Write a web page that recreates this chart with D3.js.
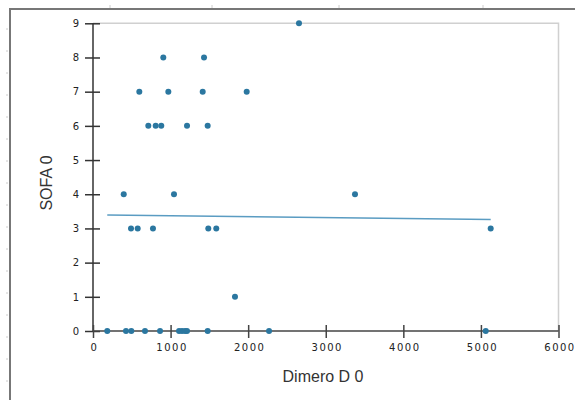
<!DOCTYPE html>
<meta charset="utf-8">
<html>
<style>
  body { margin:0; background:#fff; }
  text { font-family: "DejaVu Sans", sans-serif; }
</style>
<script src="https://d3js.org/d3.v7.min.js"></script>
<body>
<svg id="chart" width="575" height="400"></svg>
<script>

// Data
var dimero = [2655, 906, 1431, 597, 971, 1414, 1981, 713, 808, 880, 1212, 1478,
              396, 1044, 3377, 490, 576, 773, 1486, 1589, 5126, 1830,
              184, 425, 494, 670, 864, 1109, 1147, 1186, 1212, 1478, 2269, 5062];
var sofa   = [9, 8, 8, 7, 7, 7, 7, 6, 6, 6, 6, 6,
              4, 4, 4, 3, 3, 3, 3, 3, 3, 1,
              0, 0, 0, 0, 0, 0, 0, 0, 0, 0, 0, 0];
var trendX = [184, 5126];
var trendY = [3.39, 3.26];
var xTicks = [0, 1000, 2000, 3000, 4000, 5000, 6000];
var yTicks = [0, 1, 2, 3, 4, 5, 6, 7, 8, 9];

var svg = d3.select("#chart");

// outer frame (cropped window)
svg.append("line").attr("x1", 10).attr("x2", 10).attr("y1", 8).attr("y2", 400)
  .attr("stroke", "#777").attr("stroke-width", 2);
svg.append("line").attr("x1", 9).attr("x2", 575).attr("y1", 9).attr("y2", 9)
  .attr("stroke", "#777").attr("stroke-width", 2);
[110, 212, 339, 483].forEach(function(x) {
  svg.append("line").attr("x1", x).attr("x2", x).attr("y1", 5).attr("y2", 8)
    .attr("stroke", "#ccc");
});
d3.range(29, 400, 22).forEach(function(y) {
  svg.append("line").attr("x1", 6).attr("x2", 8).attr("y1", y).attr("y2", y)
    .attr("stroke", "#ccc");
});

var x = d3.scaleLinear().domain([0, 6000]).range([93, 558.5]);
var y = d3.scaleLinear().domain([0, 9]).range([331, 23.3]);

// light plot frame
svg.append("path")
  .attr("d", "M" + x(0) + "," + y(9) + "H" + x(6000) + "V" + y(0))
  .attr("fill", "none").attr("stroke", "#d0d0d0").attr("stroke-width", 1.5);

// y axis
var yAxis = svg.append("g").attr("transform", "translate(" + x(0) + ",0)")
  .call(d3.axisLeft(y).tickValues(yTicks).tickSize(8).tickPadding(6));
yAxis.selectAll(".tick line").attr("x2", 7).attr("x1", -8);
yAxis.select(".domain").attr("d", "M0," + y(9) + "V" + y(0));
yAxis.selectAll("line, .domain").attr("stroke", "#333").attr("stroke-width", 1.5);
yAxis.selectAll("text").attr("font-size", 10).attr("fill", "#222")
  .attr("font-family", "DejaVu Sans, sans-serif");

// x axis
var xAxis = svg.append("g").attr("transform", "translate(0," + y(0) + ")")
  .call(d3.axisBottom(x).tickValues(xTicks).tickFormat(d3.format("d")).tickSize(7).tickPadding(6));
xAxis.selectAll(".tick line").attr("y1", -6).attr("y2", 7);
xAxis.select(".domain").attr("d", "M" + x(0) + ",0H" + x(6000));
xAxis.selectAll("line, .domain").attr("stroke", "#444").attr("stroke-width", 1.5);
xAxis.selectAll("text").attr("font-size", 10).attr("fill", "#222")
  .attr("font-family", "DejaVu Sans, sans-serif")
  .attr("letter-spacing", "1.5px").attr("dx", "1px");

// trend line
svg.append("line")
  .attr("x1", x(trendX[0])).attr("y1", y(trendY[0]))
  .attr("x2", x(trendX[1])).attr("y2", y(trendY[1]))
  .attr("stroke", "#5a9cc2").attr("stroke-width", 1.5);

// points
svg.append("g").selectAll("circle")
  .data(dimero)
  .enter()
  .append("circle")
    .attr("cx", function(d) { return x(d); })
    .attr("cy", function(d, i) { return y(sofa[i]); })
    .attr("r", 3)
    .attr("fill", "#2b77a0");

// titles
svg.append("text").attr("x", 323).attr("y", 382).attr("text-anchor", "middle")
  .attr("font-size", 16).attr("fill", "#333")
  .style("font-family", "Liberation Sans, Arial, sans-serif").text("Dimero D 0");
svg.append("text").attr("transform", "translate(52,183) rotate(-90)")
  .attr("text-anchor", "middle").attr("font-size", 16).attr("fill", "#333")
  .style("font-family", "Liberation Sans, Arial, sans-serif").text("SOFA 0");

</script>
</body>
</html>
